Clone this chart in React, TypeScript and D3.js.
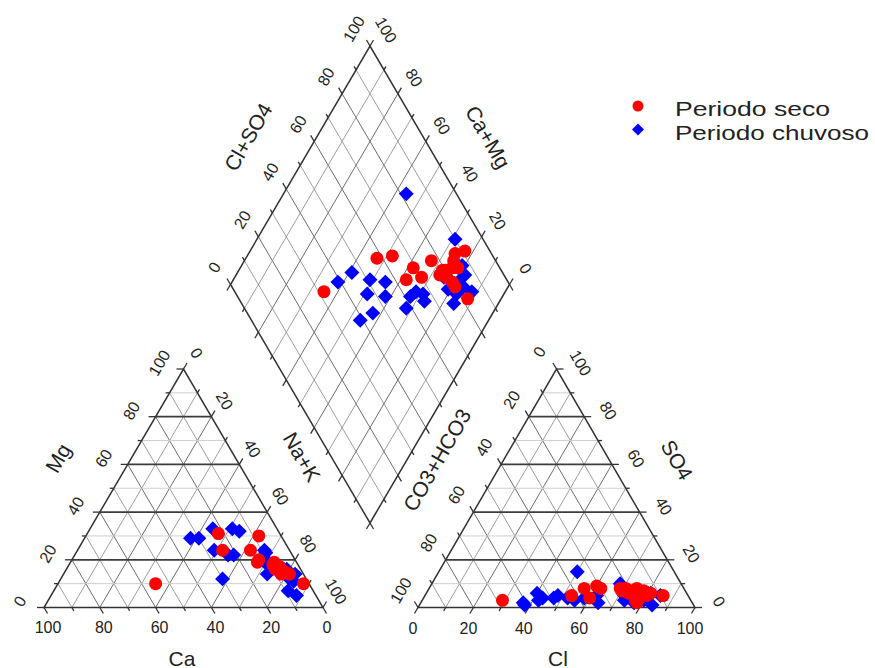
import React from 'react';
import * as d3 from 'd3';

// Cation and anion composition of each sample, % of meq/L
// Dry period (Periodo seco)
const secoCa = [55, 22, 24, 8, 14, 14, 13, 9, 7, 9, 8, 6, 8, 2, 8, 8, 5, 7, 9];
const secoMg = [10, 31, 24, 30, 24, 19, 20, 18, 17, 16, 15, 15, 18, 10, 14, 19, 14, 17, 17];
const secoCl = [29, 53, 56, 60, 60, 62, 69, 70, 73, 78, 86, 77, 73, 78, 80, 71, 78, 75, 81];
const secoSO4 = [3, 5, 8, 9, 4, 8, 8, 7, 6, 7, 5, 3, 7, 4, 5, 8, 2, 8, 6];

// Rainy period (Periodo chuvoso)
const chuvCa = [33, 30, 27, 23, 16, 30, 21, 14, 23, 10, 12, 9, 9, 13, 9, 5, 6, 5, 3, 8, 6, 6, 7, 11];
const chuvMg = [29, 29, 24, 22, 33, 12, 22, 32, 33, 19, 20, 24, 23, 14, 7, 11, 12, 16, 14, 17, 15, 13, 5, 18];
const chuvCl = [37, 40, 47, 52, 43, 48, 42, 38, 76, 85, 55, 58, 50, 64, 73, 80, 80, 81, 77, 68, 72, 78, 84, 62];
const chuvSO4 = [2, 6, 4, 4, 4, 5, 3, 1, 6, 5, 3, 4, 15, 2, 3, 3, 6, 6, 2, 10, 5, 4, 1, 5];

const tickValues = [0, 20, 40, 60, 80, 100];
const gridValues = d3.range(10, 100, 10);
const tickMarks = d3.range(0, 101, 10);

const seriesNames = ['Periodo seco', 'Periodo chuvoso'];

type Pt = [number, number];

// Ternary frames: x runs along the base, y from base (0) to apex (100)
const leftX = d3.scaleLinear().domain([0, 100]).range([44, 323]);
const leftY = d3.scaleLinear().domain([0, 100]).range([607.5, 369]);
const rightX = d3.scaleLinear().domain([0, 100]).range([418, 695]);
const rightY = d3.scaleLinear().domain([0, 100]).range([607.5, 369]);
// Diamond: horizontal = (Cl+SO4) - (Ca+Mg), vertical = (Cl+SO4) + (Ca+Mg)
const dX = d3.scaleLinear().domain([-100, 100]).range([230.5, 509.5]);
const dY = d3.scaleLinear().domain([0, 200]).range([523, 46]);

const tri = (sx: d3.ScaleLinear<number, number>, sy: d3.ScaleLinear<number, number>) =>
  (r: number, t: number): Pt => [sx(r + t / 2), sy(t)];
const catPt = tri(leftX, leftY); // r = Na+K, t = Mg
const anPt = tri(rightX, rightY); // r = Cl, t = SO4
const diaPt = (a: number, c: number): Pt => [dX(a - c), dY(a + c)];

const FONT = 'Arial, "Liberation Sans", sans-serif';
const RED = '#ff0000';
const BLUE = '#0000ff';

const unit = (dx: number, dy: number): Pt => {
  const l = Math.hypot(dx, dy);
  return [dx / l, dy / l];
};

type Seg = { p: Pt; q: Pt; kind: 'hmaj' | 'hmin' | 'dmaj' | 'dmin' };

function triangleGrid(pt: (r: number, t: number) => Pt): Seg[] {
  const segs: Seg[] = [];
  gridValues.forEach((v) => {
    const major = v % 20 === 0;
    // diagonal families first so horizontals sit on top
    segs.push({ p: pt(v, 0), q: pt(v, 100 - v), kind: major ? 'dmaj' : 'dmin' });
    segs.push({ p: pt(100 - v, 0), q: pt(0, 100 - v), kind: major ? 'dmaj' : 'dmin' });
  });
  gridValues.forEach((v) => {
    const major = v % 20 === 0;
    segs.push({ p: pt(0, v), q: pt(100 - v, v), kind: major ? 'hmaj' : 'hmin' });
  });
  return segs;
}

function diamondGrid(): Seg[] {
  const segs: Seg[] = [];
  gridValues.forEach((v) => {
    const major = v % 20 === 0;
    segs.push({ p: diaPt(v, 0), q: diaPt(v, 100), kind: major ? 'dmaj' : 'dmin' });
    segs.push({ p: diaPt(0, v), q: diaPt(100, v), kind: major ? 'dmaj' : 'dmin' });
  });
  return segs;
}

const segStyle: Record<Seg['kind'], { stroke: string; w: number }> = {
  hmaj: { stroke: '#3c3c3c', w: 1.7 },
  hmin: { stroke: '#cfcfcf', w: 1 },
  dmaj: { stroke: '#6e6e6e', w: 1 },
  dmin: { stroke: '#8c8c8c', w: 0.85 },
};

type Tick = { p: Pt; dir: Pt };

function ticksAlong(points: (v: number) => Pt, dir: Pt): Tick[] {
  return tickMarks.map((v) => ({ p: points(v), dir }));
}

type Label = { text: string; x: number; y: number; rot: number };

function labelsAlong(points: (v: number) => Pt, off: Pt, rot: number): Label[] {
  return tickValues.map((v) => {
    const [x, y] = points(v);
    return { text: String(v), x: x + off[0], y: y + off[1], rot };
  });
}

const upRight = unit(139.5, -238.5);
const upLeft = unit(-139.5, -238.5);
const downRight = unit(139.5, 238.5);
const downLeft = unit(-139.5, 238.5);

export default function App() {
  const grids = [...triangleGrid(catPt), ...triangleGrid(anPt), ...diamondGrid()];

  const outlines: Pt[][] = [
    [catPt(0, 0), catPt(100, 0), catPt(0, 100)],
    [anPt(0, 0), anPt(100, 0), anPt(0, 100)],
    [diaPt(0, 0), diaPt(100, 0), diaPt(100, 100), diaPt(0, 100)],
  ];

  const ticks: Tick[] = [
    // cation triangle
    ...ticksAlong((v) => catPt(0, v), [-1, 0]), // Mg
    ...ticksAlong((v) => catPt(100 - v, 0), downRight), // Ca
    ...ticksAlong((v) => catPt(v, 100 - v), upRight), // Na+K
    // anion triangle
    ...ticksAlong((v) => anPt(100 - v, v), [1, 0]), // SO4
    ...ticksAlong((v) => anPt(v, 0), downLeft), // Cl
    ...ticksAlong((v) => anPt(0, 100 - v), upLeft), // CO3+HCO3
    // diamond
    ...ticksAlong((v) => diaPt(v, 100), upLeft),
    ...ticksAlong((v) => diaPt(100, v), upRight),
    ...ticksAlong((v) => diaPt(0, v), downLeft),
    ...ticksAlong((v) => diaPt(v, 0), downRight),
  ];

  const labels: Label[] = [
    ...labelsAlong((v) => catPt(0, v), [-24, -6], -60),
    ...labelsAlong((v) => catPt(100 - v, 0), [4, 20], 0),
    ...labelsAlong((v) => catPt(v, 100 - v), [13, -16], 60),
    ...labelsAlong((v) => anPt(100 - v, v), [24, -6], 60),
    ...labelsAlong((v) => anPt(v, 0), [-5, 21], 0),
    ...labelsAlong((v) => anPt(0, 100 - v), [-17, -17], -60),
    ...labelsAlong((v) => diaPt(v, 100), [-16, -17], -60),
    ...labelsAlong((v) => diaPt(100, v), [16, -16], 60),
  ];

  const titles: Label[] = [
    { text: 'Mg', x: 58, y: 458, rot: -60 },
    { text: 'Ca', x: 182, y: 658, rot: 0 },
    { text: 'Na+K', x: 302, y: 457, rot: 60 },
    { text: 'Cl+SO4', x: 248, y: 137, rot: -60 },
    { text: 'Ca+Mg', x: 488, y: 137, rot: 60 },
    { text: 'CO3+HCO3', x: 437, y: 460, rot: -60 },
    { text: 'SO4', x: 677, y: 460, rot: 60 },
    { text: 'Cl', x: 558, y: 658, rot: 0 },
  ];

  const samples = (ca: number[], mg: number[], cl: number[], so4: number[]) =>
    ca.map((c, i) => {
      const m = mg[i];
      const naK = 100 - c - m;
      const a = cl[i] + so4[i];
      return {
        cat: catPt(naK, m),
        an: anPt(cl[i], so4[i]),
        dia: diaPt(a, c + m),
      };
    });

  const seco = samples(secoCa, secoMg, secoCl, secoSO4);
  const chuv = samples(chuvCa, chuvMg, chuvCl, chuvSO4);

  const diamondPath = d3.symbol(d3.symbolSquare, 112)() as string;

  const bluePts = chuv.flatMap((s) => [s.dia, s.cat, s.an]);
  const redPts = seco.flatMap((s) => [s.dia, s.cat, s.an]);

  return (
    <svg
      width={875}
      height={668}
      viewBox="0 0 875 668"
      style={{ position: 'absolute', left: 0, top: 0, background: '#fff' }}
      fontFamily={FONT}
    >
      <rect width={875} height={668} fill="#fff" />
      <g>
        {grids.map((s, i) => (
          <line
            key={'g' + i}
            x1={s.p[0]}
            y1={s.p[1]}
            x2={s.q[0]}
            y2={s.q[1]}
            stroke={segStyle[s.kind].stroke}
            strokeWidth={segStyle[s.kind].w}
          />
        ))}
      </g>
      <g>
        {ticks.map((t, i) => {
          const len = i % 11 % 2 === 0 ? 7 : 4;
          return (
            <line
              key={'t' + i}
              x1={t.p[0]}
              y1={t.p[1]}
              x2={t.p[0] + t.dir[0] * len}
              y2={t.p[1] + t.dir[1] * len}
              stroke="#333"
              strokeWidth={1.3}
            />
          );
        })}
      </g>
      <g>
        {outlines.map((pts, i) => (
          <polygon
            key={'o' + i}
            points={pts.map((p) => p.join(',')).join(' ')}
            fill="none"
            stroke="#333"
            strokeWidth={1.5}
            strokeLinejoin="miter"
          />
        ))}
      </g>
      <g fill="#222" fontSize={16}>
        {labels.map((l, i) => (
          <text
            key={'l' + i}
            transform={`translate(${l.x},${l.y}) rotate(${l.rot})`}
            textAnchor="middle"
            dominantBaseline="central"
          >
            {l.text}
          </text>
        ))}
      </g>
      <g fill="#222" fontSize={21}>
        {titles.map((l, i) => (
          <text
            key={'ti' + i}
            transform={`translate(${l.x},${l.y}) rotate(${l.rot})`}
            textAnchor="middle"
            dominantBaseline="central"
          >
            {l.text}
          </text>
        ))}
      </g>
      <g fill={BLUE}>
        {bluePts.map((p, i) => (
          <path key={'b' + i} d={diamondPath} transform={`translate(${p[0]},${p[1]}) rotate(45)`} />
        ))}
      </g>
      <g fill={RED}>
        {redPts.map((p, i) => (
          <circle key={'r' + i} cx={p[0]} cy={p[1]} r={6.5} />
        ))}
      </g>
      <g fontSize={21} fill="#222">
        <circle cx={638} cy={106} r={5.5} fill={RED} />
        <text x={675} y={116} textLength={155} lengthAdjust="spacingAndGlyphs">
          {seriesNames[0]}
        </text>
        <path d={diamondPath} transform="translate(638,129.5) rotate(45) scale(0.8)" fill={BLUE} />
        <text x={675} y={140} textLength={194} lengthAdjust="spacingAndGlyphs">
          {seriesNames[1]}
        </text>
      </g>
    </svg>
  );
}
